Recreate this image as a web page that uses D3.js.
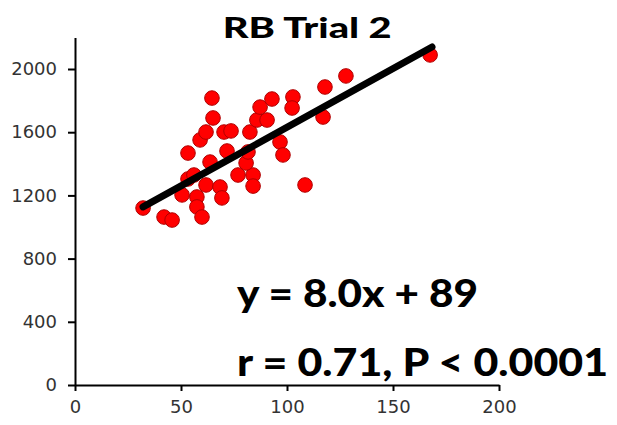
<!DOCTYPE html>
<html>
<head>
<meta charset="utf-8">
<script src="https://cdn.jsdelivr.net/npm/d3@7/dist/d3.min.js"></script>
<style>
  html, body { margin: 0; padding: 0; background: #fff; }
  svg { display: block; }
</style>
</head>
<body>
<svg id="chart" width="617" height="425"></svg>
<script>
// ---- data ----
const title = "RB Trial 2";
const xValues = [32.1, 42.0, 45.8, 50.5, 53.3, 56.1, 57.5, 57.5, 59.9, 61.8,
                 63.7, 53.3, 59.0, 61.8, 64.6, 65.1, 70.3, 73.6, 71.7, 68.4,
                 69.3, 76.9, 84.0, 84.0, 80.7, 81.6, 82.5, 85.8, 90.6, 87.3,
                 92.9, 96.7, 98.1, 102.8, 102.4, 108.5, 117.0, 117.9, 127.8, 167.5];
const yValues = [1120, 1063, 1044, 1203, 1304, 1329, 1190, 1127, 1063, 1266,
                 1411, 1468, 1551, 1601, 1816, 1690, 1601, 1608, 1481, 1253,
                 1184, 1329, 1329, 1259, 1405, 1475, 1601, 1677, 1677, 1759,
                 1810, 1538, 1456, 1823, 1753, 1266, 1696, 1886, 1956, 2089];
const fitX = [32.1, 168.4];
const fitY = [1127, 2139];
const xTicks = [0, 50, 100, 150, 200];
const yTicks = [0, 400, 800, 1200, 1600, 2000];
const xDomain = [0, 200];
const yDomain = [0, 2200];
const equationLines = ["y = 8.0x + 89", "r = 0.71, P < 0.0001"];

// ---- chart ----
const svg = d3.select("#chart");
const x = d3.scaleLinear().domain(xDomain).range([75, 499]);
const y = d3.scaleLinear().domain(yDomain).range([385, 37.4]);

const tickFont = "'DejaVu Sans', Verdana, sans-serif";

const gx = svg.append("g").attr("transform", "translate(0,385)")
  .call(d3.axisBottom(x).tickValues(xTicks).tickSize(6).tickSizeOuter(0).tickPadding(9).tickFormat(d3.format("d")));
const gy = svg.append("g").attr("transform", "translate(75,0)")
  .call(d3.axisLeft(y).tickValues(yTicks).tickSize(7).tickSizeOuter(0).tickPadding(11).tickFormat(d3.format("d")));

[gx, gy].forEach(g => {
  g.select(".domain").attr("stroke", "#000").attr("stroke-width", 2);
  g.selectAll(".tick line").attr("stroke", "#000").attr("stroke-width", 2);
  g.selectAll(".tick text").attr("fill", "#333")
    .style("font-family", tickFont).style("font-size", "18px");
});

// points
const pts = xValues.map((v, i) => ({x: v, y: yValues[i]}));
svg.append("g").selectAll("circle").data(pts).join("circle")
  .attr("cx", d => x(d.x)).attr("cy", d => y(d.y)).attr("r", 7.3)
  .attr("fill", "#ff0000").attr("stroke", "#b00000").attr("stroke-width", 1);

// regression line
const line = d3.line().x(d => x(d[0])).y(d => y(d[1]));
svg.append("path").datum(fitX.map((v, i) => [v, fitY[i]]))
  .attr("d", line).attr("stroke", "#000").attr("stroke-width", 7)
  .attr("stroke-linecap", "round").attr("fill", "none");

// title
svg.append("text").attr("x", 222.7).attr("y", 37.5)
  .attr("textLength", 169).attr("lengthAdjust", "spacingAndGlyphs")
  .style("font-family", "Lato, 'Open Sans', sans-serif").style("font-weight", "900")
  .style("font-size", "29px").attr("fill", "#000").text(title);

// equation text
const eqY = [306.5, 375.5];
const eqW = [241, 371];
equationLines.forEach((t, i) => {
  svg.append("text").attr("x", 237).attr("y", eqY[i])
    .attr("textLength", eqW[i]).attr("lengthAdjust", "spacingAndGlyphs")
    .style("font-family", "Lato, 'Open Sans', sans-serif").style("font-weight", "900")
    .style("font-size", "38px").attr("fill", "#000").text(t);
});
</script>
</body>
</html>
